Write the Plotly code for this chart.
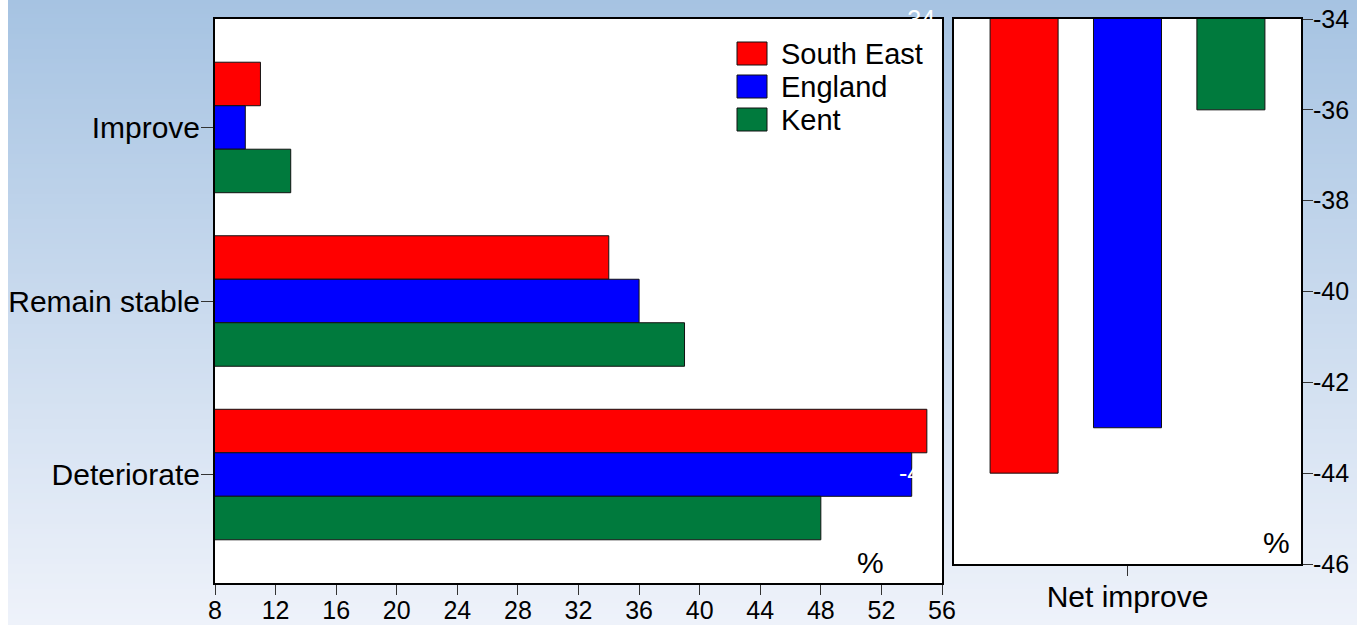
import plotly.graph_objects as go

# ---- data ----
categories = ["Improve", "Remain stable", "Deteriorate"]
series_names = ["South East", "England", "Kent"]
series_colors = ["#FF0000", "#0000FF", "#007A3D"]
south_east = [11, 34, 55]
england = [10, 36, 54]
kent = [13, 39, 48]
net_improve = [-44, -43, -36]
net_label = "Net improve"
x_ticks = [8, 12, 16, 20, 24, 28, 32, 36, 40, 44, 48, 52, 56]
net_ticks = [-34, -36, -38, -40, -42, -44, -46]

W, H = 1357, 625
ML, MR, MT, MB = 215, 56, 19, 42
PW, PH = W - ML - MR, H - MT - MB

def px_x(p):
    return (p - ML) / PW

def px_y(p):
    return (H - MB - p) / PH

FONT = "Liberation Sans, Arial, sans-serif"
TXT = 30
LEG = 29
TICK = 25

left_dom = [0, px_x(942)]
right_dom = [px_x(954), 1]
right_ydom = [px_y(564), 1]

fig = go.Figure()

# horizontal grouped bars (left panel)
bar_h = 0.2507
offsets_h = [-0.376, -0.1253, 0.1253]
for name, vals, col, off in zip(series_names, [south_east, england, kent], series_colors, offsets_h):
    fig.add_trace(go.Bar(
        y=categories, x=vals, orientation="h", name=name,
        marker=dict(color=col, line=dict(color="#111", width=1)),
        width=bar_h, offset=off, xaxis="x", yaxis="y", showlegend=False,
    ))

# net balance bars (right panel)
bar_w = 0.196
offsets_v = [-0.396, -0.098, 0.200]
for name, v, col, off in zip(series_names, net_improve, series_colors, offsets_v):
    fig.add_trace(go.Bar(
        x=[net_label], y=[v], name=name,
        marker=dict(color=col, line=dict(color="#111", width=1)),
        width=bar_w, offset=off, xaxis="x2", yaxis="y2", showlegend=False,
    ))

# background: vertical gradient drawn as thin strips
shapes = []
top_c = (166, 195, 226)
bot_c = (238, 242, 250)
y_lo = -MB / PH
y_hi = 1 + MT / PH
n = 125
for i in range(n):
    t = i / (n - 1)
    c = tuple(round(top_c[k] + (bot_c[k] - top_c[k]) * t) for k in range(3))
    y1 = y_hi - (y_hi - y_lo) * i / n + 0.002
    y0 = y_hi - (y_hi - y_lo) * (i + 1) / n - 0.002
    shapes.append(dict(type="rect", xref="paper", yref="paper", layer="below",
                       x0=-ML / PW - 0.01, x1=1 + MR / PW + 0.01, y0=y0, y1=y1,
                       line=dict(width=0), fillcolor="rgb(%d,%d,%d)" % c))
# white strip on the far left
shapes.append(dict(type="rect", xref="paper", yref="paper", layer="below",
                   x0=-ML / PW - 0.01, x1=px_x(8), y0=y_lo - 0.01, y1=y_hi + 0.01,
                   line=dict(width=0), fillcolor="white"))
# white panels
shapes.append(dict(type="rect", xref="paper", yref="paper", layer="below",
                   x0=left_dom[0], x1=left_dom[1], y0=0, y1=1,
                   line=dict(width=0), fillcolor="white"))
shapes.append(dict(type="rect", xref="paper", yref="paper", layer="below",
                   x0=right_dom[0], x1=right_dom[1], y0=right_ydom[0], y1=1,
                   line=dict(width=0), fillcolor="white"))

# legend swatches
annotations = []
leg_top = [42, 75, 108]
for name, col, t in zip(series_names, series_colors, leg_top):
    shapes.append(dict(type="rect", xref="paper", yref="paper",
                       x0=px_x(737), x1=px_x(767), y0=px_y(t + 23), y1=px_y(t),
                       line=dict(color="#111", width=1), fillcolor=col))
    annotations.append(dict(x=px_x(779), y=px_y(t + 12), xref="paper", yref="paper",
                            text=name, showarrow=False, xanchor="left", yanchor="middle",
                            font=dict(family=FONT, size=LEG, color="black")))

# percent markers
annotations.append(dict(x=px_x(870), y=px_y(562), xref="paper", yref="paper", text="%",
                        showarrow=False, xanchor="center", yanchor="middle",
                        font=dict(family=FONT, size=TXT, color="black")))
annotations.append(dict(x=px_x(1276), y=px_y(542), xref="paper", yref="paper", text="%",
                        showarrow=False, xanchor="center", yanchor="middle",
                        font=dict(family=FONT, size=TXT, color="black")))

# white echo of the balance scale
for v in net_ticks:
    annotations.append(dict(x=px_x(917), y=v, xref="paper", yref="y2", text=str(v),
                            showarrow=False, xanchor="center", yanchor="middle",
                            font=dict(family=FONT, size=TICK, color="white")))

axis_common = dict(showline=True, linecolor="black", linewidth=2, mirror=True,
                   showgrid=False, zeroline=False, ticks="outside", tickcolor="#333",
                   ticklen=10, tickwidth=1, automargin=False)

fig.update_layout(
    width=W, height=H,
    margin=dict(l=ML, r=MR, t=MT, b=MB, pad=0, autoexpand=False),
    paper_bgcolor="rgba(0,0,0,0)", plot_bgcolor="rgba(0,0,0,0)",
    barmode="overlay",
    showlegend=False,
    font=dict(family=FONT, color="black"),
    xaxis=dict(domain=left_dom, range=[8, 56], tickvals=x_ticks,
               ticktext=[str(v) for v in x_ticks], anchor="y",
               tickfont=dict(size=TICK), ticklabelstandoff=-6, **axis_common),
    yaxis=dict(domain=[0, 1], type="category", categoryorder="array", categoryarray=categories,
               range=[2.625, -0.625], anchor="x", tickfont=dict(size=TXT),
               ticklabelstandoff=-5, **{**axis_common, "ticklen": 12}),
    xaxis2=dict(domain=right_dom, type="category", range=[-0.5, 0.5], anchor="y2",
                tickfont=dict(size=TXT), ticklabelstandoff=-5, **axis_common),
    yaxis2=dict(domain=right_ydom, range=[-46, -34], tickvals=net_ticks,
                ticktext=[str(v) for v in net_ticks], side="right",
                anchor="x2", tickfont=dict(size=TICK), ticklabelstandoff=-5, **axis_common),
    shapes=shapes,
    annotations=annotations,
)

fig.write_html("out.html")
